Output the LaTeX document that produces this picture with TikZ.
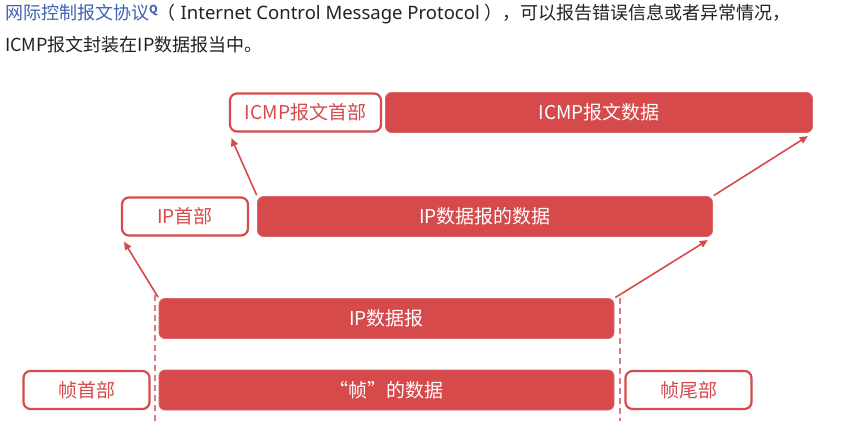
\documentclass[tikz,border=0pt]{standalone}
\usepackage{fontspec}
\setmainfont{Noto Sans CJK SC}
\newfontfamily\latinface{Noto Sans}
\usepackage{xcolor}
\usepackage{tikz}
\usetikzlibrary{arrows.meta,positioning}
\definecolor{PktRed}{HTML}{D64A4C}
\definecolor{PktDash}{HTML}{DB7A80}
\definecolor{LinkBlue}{HTML}{3F63AE}
\definecolor{BodyInk}{HTML}{222222}

\begin{document}
\begin{tikzpicture}[
  x=1pt,y=-1pt,
  databox/.style={fill=PktRed,draw=PktRed!85,line width=0.8pt,rounded corners=6pt,
              text=white,font=\fontsize{19}{19}\selectfont,minimum height=40pt,inner sep=0pt},
  hdrbox/.style={fill=white,draw=PktRed,line width=2.2pt,rounded corners=7pt,
              text=PktRed,font=\fontsize{19}{19}\selectfont,minimum height=38pt,inner sep=0pt},
  liftarrow/.style={-{Triangle[length=8pt,width=7pt]},draw=PktRed,line width=1.6pt,
              shorten >=6pt,shorten <=1pt},
  cut/.style={draw=PktDash,line width=1.3pt,dash pattern=on 6pt off 4pt}
]
\useasboundingbox[fill=white] (0,0) rectangle (851,427);

% caption above the diagram
\node[anchor=west,inner sep=0pt,text=BodyInk,font=\fontsize{18}{18}\selectfont] (intro) at (5,14)
  {\textcolor{LinkBlue}{网际控制报文协议}\raisebox{6pt}{\textcolor{LinkBlue}{\fontsize{11}{11}\selectfont\bfseries Q}}（{\latinface\fontsize{18.5}{18.5}\selectfont\ Internet Control Message Protocol\ }），可以报告错误信息或者异常情况，};
\node[anchor=west,inner sep=0pt,text=BodyInk,font=\fontsize{18}{18}\selectfont] (intro2) at (5,45)
  {ICMP报文封装在IP数据报当中。};

% ICMP layer
\node[hdrbox,minimum width=151pt] (icmphdr) at (305.5,112.5) {ICMP报文首部};
\node[databox,minimum width=427pt,right=3pt of icmphdr] (icmpdata) {ICMP报文数据};

% IP layer
\node[hdrbox,minimum width=126pt] (iphdr) at (185,216.5) {IP首部};
\node[databox,minimum width=455pt,right=8pt of iphdr] (ipdata) {IP数据报的数据};
\node[databox,minimum width=455pt] (ipdg) at (386.5,318.5) {IP数据报};

% frame layer
\node[databox,minimum width=455pt] (framedata) at (386.5,390) {“帧”的数据};
\node[hdrbox,minimum width=126pt,left=8pt of framedata] (framehdr) {帧首部};
\node[hdrbox,minimum width=126pt,right=10pt of framedata] (frametail) {帧尾部};

% frame boundaries
\coordinate (cutLtop) at (155,295);
\coordinate (cutLbot) at (155,421);
\coordinate (cutRtop) at (620,298);
\coordinate (cutRbot) at (620,421);
\draw[cut] (cutLtop) -- (cutLbot);
\draw[cut] (cutRtop) -- (cutRbot);

\foreach \a/\b in {ipdg.north west/iphdr.south west,ipdata.north west/icmphdr.south west,
                   ipdg.north east/ipdata.south east,ipdata.north east/icmpdata.south east}
  {\draw[liftarrow] (\a) -- (\b);}
\end{tikzpicture}
\end{document}
